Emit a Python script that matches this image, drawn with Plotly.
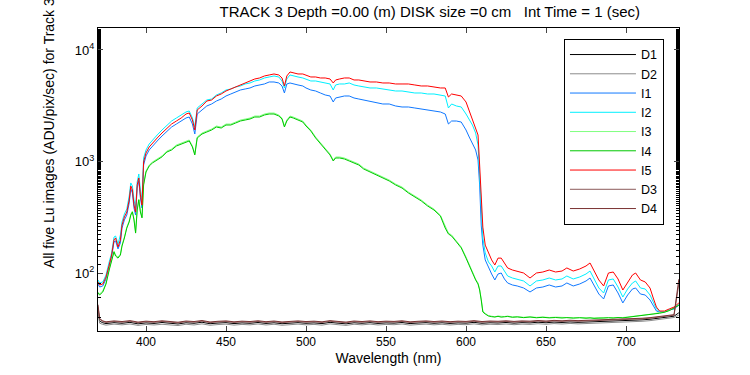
import plotly.graph_objects as go

# wavelength grid (nm) for the illuminated spectra
wavelength = [370, 371, 373, 375, 377, 378.5, 380, 381, 382.5, 384,
              385, 386.5, 388, 389.5, 390.5, 391.5, 392.5, 393.5, 394.5, 395.5,
              396.5, 397.5, 398.5, 400, 402, 404, 407, 410, 413, 416,
              419, 422, 425, 427, 429, 430.5, 432, 435, 438, 441,
              444, 447, 450, 453, 456, 459, 462, 465, 468, 471,
              474, 477, 480, 483, 485, 486.5, 488, 490, 492, 495,
              498, 500, 503, 506, 509, 512, 515, 517, 518.5, 521,
              524, 527, 530, 533, 536, 540, 544, 548, 552, 556,
              560, 564, 568, 572, 576, 580, 584, 587, 589, 591,
              594, 597, 600, 602, 604, 606, 607.5, 608.5, 609.5, 610.5,
              612, 614, 616, 618, 620, 622, 624, 626, 629, 632,
              636, 640, 644, 648, 652, 656, 660, 663, 667, 671,
              675, 677.5, 680, 683, 686, 689, 692, 695, 698, 701,
              704, 706, 709, 712, 715, 717, 719, 721, 724, 727,
              730, 733]

I1 = [79.7, 74.9, 76.5, 88.4, 113.2, 139.1, 190, 194, 164.4, 186.1,
      252.8, 299, 331, 424.9, 566.6, 522, 382.6, 331, 578, 669,
      471, 382.6, 930, 1121, 1268, 1377, 1527, 1693, 1877, 2038,
      2168, 2307, 2455, 2506, 2168, 1764, 2666, 2896, 3145, 3278,
      3487, 3634, 3867, 4030, 4200, 4377, 4469, 4562, 4755, 4854,
      4955, 5164, 5164, 5059, 4755, 4114, 4955, 5059, 4955, 4854,
      4755, 4562, 4377, 4287, 4114, 3948, 3867, 3416, 3710, 3788,
      3867, 3867, 3710, 3634, 3560, 3487, 3416, 3278, 3278, 3145,
      3081, 3081, 3018, 2956, 2896, 2837, 2779, 2666, 2168, 2307,
      2307, 2259, 1916, 1658, 1465, 1268, 1031, 616, 269, 178,
      131, 111, 98.0, 86.6, 98.0, 100.0, 88.4, 81.4, 78.1, 76.5,
      73.4, 67.6, 73.4, 74.9, 78.1, 74.9, 76.5, 81.4, 76.5, 79.7,
      84.8, 90.2, 76.5, 64.8, 58.5, 76.5, 78.1, 66.2, 53.9, 63.5,
      71.9, 73.4, 64.8, 63.5, 57.3, 51.6, 45.6, 44.7, 44.7, 46.6,
      47.6, 51.6]

I2 = [86.6, 81.4, 83.1, 96.0, 125.7, 151.3, 210, 214.5, 182.3, 219,
      287, 338, 374.7, 490.7, 642, 603, 452, 382.6, 655, 772.5,
      555, 452, 1075, 1268, 1435, 1559, 1728, 1916, 2124, 2307,
      2455, 2612, 2779, 2837, 2455, 2038, 3018, 3278, 3560, 3634,
      3948, 4114, 4377, 4469, 4657, 4755, 4955, 5059, 5272, 5382,
      5610, 5726, 5846, 5726, 5272, 4562, 5495, 5968, 5846, 5726,
      5610, 5495, 5272, 5272, 5164, 5059, 4955, 4377, 4854, 4955,
      4955, 5059, 4854, 4755, 4657, 4562, 4562, 4469, 4377, 4287,
      4287, 4200, 4114, 4114, 4030, 4030, 3948, 3867, 3018, 3278,
      3145, 3081, 2666, 2355, 2124, 1801, 1406, 757, 331, 206,
      151.3, 125.7, 115.6, 102.1, 115.6, 115.6, 104.2, 94.0, 90.2, 88.4,
      84.8, 76.5, 84.8, 86.6, 90.2, 86.6, 88.4, 94.0, 88.4, 92.1,
      98.0, 104.2, 88.4, 73.4, 66.2, 86.6, 88.4, 74.9, 60.9, 71.9,
      81.4, 84.8, 73.4, 71.9, 63.5, 55.0, 47.6, 44.7, 44.7, 46.6,
      48.6, 52.7]

I3 = [67.5, 64.8, 69.0, 81.3, 108.5, 133.6, 157.6, 144.8, 138.7, 147.9,
      177.9, 210.1, 257.9, 292.7, 337.6, 359.0, 305.0, 232.6, 374.3, 461.0,
      359.0, 318.0, 628.3, 821.1, 929.2, 988.4, 1051.6, 1122, 1239, 1293,
      1405, 1464, 1526, 1558, 1376, 1167, 1658, 1799, 1875, 1954,
      2079, 2036, 2166, 2166, 2257, 2353, 2402, 2452, 2556, 2556,
      2664, 2719, 2719, 2610, 2452, 2079, 2353, 2556, 2504, 2402,
      2304, 2122, 1915, 1658, 1464, 1293, 1167, 1030, 1097, 1097,
      1074, 1030, 988, 949, 874, 821, 772, 726, 682, 628,
      590, 532, 491, 452, 407, 374, 330, 258, 228, 219,
      194, 171, 139, 117.9, 102, 88.3, 81.3, 71.8, 58.4, 45.6,
      43.5, 41.4, 41.0, 40.5, 41.1, 40.6, 40.7, 41.1, 40.4, 40.6,
      40.1, 40.5, 40.0, 40.3, 39.9, 40.2, 39.8, 40.0, 39.7, 39.9,
      39.6, 39.8, 39.5, 39.8, 39.5, 39.9, 39.7, 40.1, 39.9, 40.3,
      40.7, 41.0, 41.4, 41.8, 42.5, 43.0, 43.6, 43.9, 44.8, 46.3,
      48.8, 51.8]

I4 = [66.2, 63.5, 67.6, 79.7, 106.4, 131, 154.5, 142, 136, 145,
      174.4, 206, 252.8, 287, 331, 352, 299, 228, 367, 452,
      352, 311.8, 616, 805, 911, 969, 1031, 1100, 1215, 1268,
      1377, 1435, 1496, 1527, 1349, 1144, 1625, 1764, 1838, 1916,
      2038, 1996, 2124, 2124, 2213, 2307, 2355, 2404, 2506, 2506,
      2612, 2666, 2666, 2559, 2404, 2038, 2307, 2506, 2455, 2355,
      2259, 2080, 1877, 1625, 1435, 1268, 1144, 1010, 1075, 1075,
      1053, 1010, 969, 930, 857, 805, 757, 712, 669, 616,
      578, 522, 481, 443, 399, 367, 324, 253, 224, 214.5,
      190, 168, 136, 115.6, 100, 86.6, 79.7, 70.4, 57.3, 44.7,
      42.9, 41.2, 40.6, 40.3, 40.9, 40.2, 40.5, 40.8, 40.1, 40.4,
      39.8, 40.3, 39.7, 40.1, 39.6, 39.9, 39.5, 39.8, 39.4, 39.7,
      39.3, 39.6, 39.2, 39.5, 39.3, 39.7, 39.4, 39.9, 39.6, 40.1,
      40.4, 40.8, 41.1, 41.6, 42.2, 42.8, 43.3, 43.6, 44.5, 46.0,
      48.5, 51.5]

I5 = [83.1, 78.1, 79.7, 92.1, 118, 145, 198, 206, 171, 198,
      269, 318, 352, 452, 603, 555, 407, 352, 616, 712,
      501, 407, 989, 1192, 1349, 1465, 1624, 1801, 1996, 2168,
      2307, 2455, 2666, 2722, 2355, 1916, 2896, 3145, 3487, 3560,
      3867, 4030, 4287, 4469, 4657, 4854, 5059, 5272, 5495, 5610,
      5846, 5968, 6091, 5968, 5610, 4755, 5846, 6348, 6218, 6091,
      6091, 5968, 5726, 5726, 5610, 5610, 5495, 5059, 5382, 5495,
      5610, 5610, 5382, 5382, 5272, 5164, 5164, 5059, 5059, 4955,
      4955, 4955, 4854, 4755, 4755, 4657, 4562, 4562, 3788, 4030,
      3948, 3867, 3416, 2837, 2355, 1996, 1728, 930, 407, 258,
      178, 154.5, 131, 118, 136, 136, 123, 111, 106.4, 104.2,
      100.0, 90.2, 100.0, 102.1, 106.4, 102.1, 104.2, 111, 104.2, 108.6,
      115.6, 123, 104.2, 86.6, 76.5, 100.0, 102.1, 88.4, 70.4, 83.1,
      96.0, 100.0, 86.6, 83.1, 73.3, 59.7, 49.5, 45.6, 45.6, 47.6,
      49.5, 53.9]

# wavelength grid (nm) for the dark frames
wavelength_dark = [370, 371, 373,
                   375, 380, 385, 390, 395, 400, 405, 410, 415, 420,
                   425, 430, 435, 440, 445, 450, 455, 460, 465, 470,
                   475, 480, 485, 490, 495, 500, 505, 510, 515, 520,
                   525, 530, 535, 540, 545, 550, 555, 560, 565, 570,
                   575, 580, 585, 590, 595, 600, 605, 610, 615, 620,
                   625, 630, 635, 640, 645, 650, 655, 660, 665, 670,
                   675, 680, 685, 690, 695, 700, 705, 710, 715, 720,
                   725, 730, 733]

D1 = [48, 37, 35.8,
      35.2, 35.9, 35.4, 36.1, 35.0, 35.7, 35.3, 36.0, 35.5, 34.9,
      35.8, 35.4, 36.2, 35.1, 35.6, 35.9, 35.2, 35.7, 35.4, 36.0,
      35.3, 35.8, 35.1, 35.6, 35.9, 35.4, 35.7, 35.2, 36.1, 35.5,
      35.0, 35.8, 35.4, 35.9, 35.3, 35.7, 35.5, 36.0, 35.2, 35.6,
      35.9, 35.4, 35.8, 35.3, 35.7, 35.5, 36.1, 35.4, 35.8, 35.6,
      36.0, 35.5, 35.9, 35.7, 36.2, 35.8, 36.3, 36.0, 36.4, 36.1,
      36.3, 36.6, 36.5, 36.9, 37.0, 37.4, 37.6, 38.0, 38.5, 39.2,
      40.0, 41.0, 44]

D2 = [46, 35.5, 34.6,
      34.1, 34.8, 34.3, 34.9, 33.9, 34.6, 34.2, 34.7, 34.4, 33.8,
      34.7, 34.2, 35.0, 34.0, 34.5, 34.8, 34.1, 34.6, 34.3, 34.9,
      34.2, 34.7, 34.0, 34.5, 34.8, 34.3, 34.6, 34.1, 35.0, 34.4,
      33.9, 34.7, 34.3, 34.8, 34.2, 34.6, 34.4, 34.9, 34.1, 34.5,
      34.8, 34.3, 34.7, 34.2, 34.6, 34.4, 35.0, 34.3, 34.7, 34.5,
      34.9, 34.4, 34.8, 34.6, 35.1, 34.7, 35.2, 34.9, 35.3, 35.0,
      35.2, 35.5, 35.4, 35.8, 35.9, 36.3, 36.5, 36.9, 37.4, 38.1,
      38.9, 39.9, 42]

D3 = [50, 38.5, 36.8,
      36.0, 36.7, 36.2, 36.9, 35.8, 36.5, 36.1, 36.8, 36.3, 35.7,
      36.6, 36.2, 37.0, 35.9, 36.4, 36.7, 36.0, 36.5, 36.2, 36.8,
      36.1, 36.6, 35.9, 36.4, 36.7, 36.2, 36.5, 36.0, 36.9, 36.3,
      35.8, 36.6, 36.2, 36.7, 36.1, 36.5, 36.3, 36.8, 36.0, 36.4,
      36.7, 36.2, 36.6, 36.1, 36.5, 36.3, 36.9, 36.2, 36.6, 36.4,
      36.8, 36.3, 36.7, 36.5, 37.0, 36.6, 37.1, 36.8, 37.2, 36.9,
      37.1, 37.4, 37.3, 37.7, 37.8, 38.2, 38.4, 38.8, 39.3, 40.0,
      40.8, 41.8, 80]

D4 = [52, 39, 37.2,
      36.5, 37.2, 36.7, 37.4, 36.3, 37.0, 36.6, 37.3, 36.8, 36.2,
      37.1, 36.7, 37.5, 36.4, 36.9, 37.2, 36.5, 37.0, 36.7, 37.3,
      36.6, 37.1, 36.4, 36.9, 37.2, 36.7, 37.0, 36.5, 37.4, 36.8,
      36.3, 37.1, 36.7, 37.2, 36.6, 37.0, 36.8, 37.3, 36.5, 36.9,
      37.2, 36.7, 37.1, 36.6, 37.0, 36.8, 37.4, 36.7, 37.1, 36.9,
      37.3, 36.8, 37.2, 37.0, 37.5, 37.1, 37.6, 37.3, 37.7, 37.4,
      37.6, 37.9, 37.8, 38.2, 38.3, 38.7, 38.9, 39.3, 39.8, 40.5,
      41.3, 42.3, 88]

x_ticks = [400, 450, 500, 550, 600, 650, 700]
y_ticks = [100, 1000, 10000]
y_ticktext = ["10<sup>2</sup>", "10<sup>3</sup>", "10<sup>4</sup>"]

series = [
    ("D1", wavelength_dark, D1, "#000000"),
    ("D2", wavelength_dark, D2, "#8c8c8c"),
    ("I1", wavelength, I1, "#0f78ff"),
    ("I2", wavelength, I2, "#00f0ff"),
    ("I3", wavelength, I3, "#80ff80"),
    ("I4", wavelength, I4, "#00c800"),
    ("I5", wavelength, I5, "#ff0000"),
    ("D3", wavelength_dark, D3, "#8c5a5a"),
    ("D4", wavelength_dark, D4, "#7a3333"),
]

FONT = "Liberation Sans, Arial, sans-serif"

fig = go.Figure()
for name, xs, ys, col in series:
    fig.add_trace(go.Scatter(x=xs, y=ys, mode="lines", name=name,
                             line=dict(color=col, width=1)))

fig.update_layout(
    width=750, height=375,
    margin=dict(l=98, r=71, t=28, b=44),
    paper_bgcolor="white", plot_bgcolor="white",
    font=dict(family=FONT, size=12, color="black"),
    title=dict(text="TRACK 3 Depth =0.00 (m) DISK size =0 cm   Int Time = 1 (sec)",
               x=0.573, xanchor="center", xref="container",
               y=0.968, yanchor="middle", font=dict(size=15)),
    legend=dict(x=0.802, y=0.964, xanchor="left", yanchor="top",
                bgcolor="white", bordercolor="black", borderwidth=1,
                font=dict(size=12.5), tracegroupgap=0, itemwidth=66),
    showlegend=True,
)
fig.update_xaxes(range=[370, 733.1], tickvals=x_ticks, ticks="inside", ticklen=5,
                 showline=True, linecolor="black", linewidth=1, mirror="allticks",
                 showgrid=False, zeroline=False, tickfont=dict(size=12), automargin=False,
                 title=dict(text="Wavelength (nm)", font=dict(size=14), standoff=4))
fig.update_yaxes(type="log", range=[1.480, 4.197], tickvals=y_ticks, ticktext=y_ticktext,
                 ticks="inside", ticklen=5, showline=True, linecolor="black", linewidth=1,
                 mirror="allticks", showgrid=False, zeroline=False, tickfont=dict(size=13),
                 automargin=False,
                 minor=dict(ticks="inside", ticklen=3, tickcolor="black", showgrid=False))
fig.add_annotation(text="All five Lu images (ADU/pix/sec) for Track 3",
                   xref="paper", yref="paper", x=-0.083, y=0.20,
                   xanchor="center", yanchor="bottom", textangle=-90,
                   showarrow=False, font=dict(size=14))

fig.write_html("out.html", config={"displayModeBar": False},
               post_script="document.body.style.margin='0px';")
